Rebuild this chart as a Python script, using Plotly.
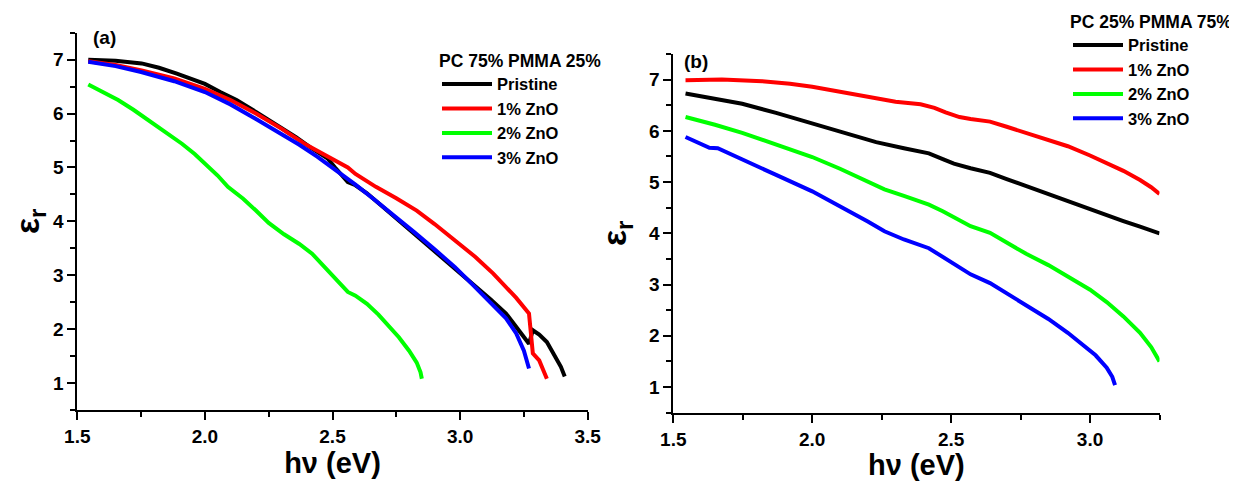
import plotly.graph_objects as go

# ---------------- data: panel (a) PC 75% PMMA 25% ----------------
a_pristine_x = [1.543, 1.65, 1.752, 1.82, 1.89, 2.0, 2.06, 2.124, 2.2, 2.28, 2.357, 2.42, 2.48, 2.51, 2.535,
                2.56, 2.59, 2.635, 2.69, 2.744, 2.82, 2.9, 2.98, 3.05, 3.12, 3.18, 3.22, 3.25, 3.27, 3.285,
                3.31, 3.34, 3.37, 3.395, 3.41]
a_pristine_y = [7.0, 6.98, 6.93, 6.85, 6.74, 6.55, 6.4, 6.25, 6.03, 5.8, 5.56, 5.35, 5.17, 5.0, 4.85,
                4.73, 4.67, 4.52, 4.3, 4.08, 3.78, 3.46, 3.14, 2.84, 2.55, 2.29, 2.05, 1.88, 1.73, 1.98,
                1.9, 1.76, 1.52, 1.3, 1.12]
a_zno1_x = [1.543, 1.65, 1.752, 1.88, 2.0, 2.1, 2.2, 2.3, 2.39, 2.48, 2.56, 2.59, 2.67, 2.75, 2.83, 2.9,
            2.98, 3.06, 3.13, 3.18, 3.22, 3.27, 3.285, 3.31, 3.34]
a_zno1_y = [6.97, 6.9, 6.8, 6.65, 6.46, 6.25, 6.0, 5.72, 5.44, 5.2, 5.0, 4.88, 4.64, 4.43, 4.2, 3.95,
            3.65, 3.34, 3.03, 2.78, 2.58, 2.29, 1.55, 1.42, 1.08]
a_zno2_x = [1.543, 1.6, 1.66, 1.72, 1.78, 1.85, 1.91, 1.96, 2.0, 2.05, 2.09, 2.15, 2.2, 2.25, 2.31, 2.37,
            2.42, 2.46, 2.5, 2.54, 2.56, 2.59, 2.635, 2.68, 2.72, 2.76, 2.8, 2.83, 2.845, 2.85]
a_zno2_y = [6.54, 6.4, 6.25, 6.07, 5.87, 5.65, 5.44, 5.25, 5.07, 4.85, 4.64, 4.42, 4.2, 3.97, 3.76, 3.58,
            3.4, 3.2, 3.0, 2.8, 2.69, 2.62, 2.47, 2.27, 2.05, 1.85, 1.6, 1.38, 1.2, 1.08]
a_zno3_x = [1.543, 1.65, 1.75, 1.88, 2.0, 2.1, 2.2, 2.29, 2.37, 2.44, 2.5, 2.55, 2.59, 2.66, 2.74, 2.82,
            2.9, 2.98, 3.05, 3.12, 3.18, 3.22, 3.25, 3.27]
a_zno3_y = [6.96, 6.88, 6.77, 6.6, 6.4, 6.17, 5.9, 5.65, 5.42, 5.2, 5.0, 4.82, 4.68, 4.42, 4.12, 3.8,
            3.48, 3.15, 2.82, 2.5, 2.2, 1.92, 1.6, 1.27]

# ---------------- data: panel (b) PC 25% PMMA 75% ----------------
b_pristine_x = [1.544, 1.65, 1.748, 1.87, 2.0, 2.1, 2.2, 2.23, 2.33, 2.42, 2.47, 2.51, 2.57, 2.64, 2.7,
                2.77, 2.85, 2.92, 3.0, 3.06, 3.12, 3.18, 3.22, 3.25]
b_pristine_y = [6.73, 6.63, 6.53, 6.35, 6.15, 5.99, 5.84, 5.78, 5.66, 5.56, 5.45, 5.36, 5.27, 5.18, 5.06,
                4.92, 4.77, 4.62, 4.46, 4.34, 4.24, 4.13, 4.06, 4.0]
b_zno1_x = [1.544, 1.675, 1.82, 1.92, 2.0, 2.11, 2.2, 2.3, 2.39, 2.44, 2.48, 2.53, 2.57, 2.64, 2.7, 2.77,
            2.85, 2.92, 3.0, 3.06, 3.12, 3.18, 3.22, 3.25]
b_zno1_y = [6.99, 7.0, 6.97, 6.92, 6.86, 6.75, 6.66, 6.57, 6.52, 6.45, 6.36, 6.27, 6.23, 6.18, 6.08, 5.96,
            5.83, 5.7, 5.52, 5.37, 5.22, 5.04, 4.9, 4.77]
b_zno2_x = [1.544, 1.65, 1.748, 1.87, 2.0, 2.1, 2.2, 2.26, 2.33, 2.42, 2.47, 2.51, 2.57, 2.64, 2.7, 2.77,
            2.85, 2.92, 3.0, 3.06, 3.12, 3.18, 3.22, 3.25]
b_zno2_y = [6.27, 6.12, 5.96, 5.73, 5.49, 5.26, 5.02, 4.86, 4.73, 4.56, 4.43, 4.32, 4.14, 4.01, 3.82, 3.6,
            3.38, 3.15, 2.9, 2.66, 2.38, 2.06, 1.78, 1.5]
b_zno3_x = [1.544, 1.59, 1.63, 1.66, 1.748, 1.87, 2.0, 2.1, 2.2, 2.26, 2.33, 2.42, 2.47, 2.51, 2.57, 2.64,
            2.7, 2.77, 2.85, 2.92, 2.98, 3.02, 3.06, 3.08, 3.09]
b_zno3_y = [5.88, 5.77, 5.67, 5.66, 5.45, 5.14, 4.82, 4.53, 4.23, 4.04, 3.88, 3.71, 3.54, 3.39, 3.2, 3.03,
            2.83, 2.58, 2.33, 2.06, 1.8, 1.62, 1.38, 1.2, 1.04]

series_names = ["Pristine", "1% ZnO", "2% ZnO", "3% ZnO"]
series_colors = ["#000000", "#ff0000", "#00ff00", "#0000ff"]
legend_titles = ["PC 75% PMMA 25%", "PC 25% PMMA 75%"]
panel_labels = ["(a)", "(b)"]

FONT = "Liberation Sans, Arial, sans-serif"
# the page body adds an 8 px margin, so the figure is drawn 8 px smaller and
# all layout positions below are given in window pixels and shifted by it
PAGE_OFF = 8
W, H = 1237 - PAGE_OFF, 484 - PAGE_OFF


def fx(px):
    return (px - PAGE_OFF) / W


def fy(py):
    return 1 - (py - PAGE_OFF) / H


fig = go.Figure()

panel_a = [(a_pristine_x, a_pristine_y), (a_zno1_x, a_zno1_y), (a_zno2_x, a_zno2_y), (a_zno3_x, a_zno3_y)]
panel_b = [(b_pristine_x, b_pristine_y), (b_zno1_x, b_zno1_y), (b_zno2_x, b_zno2_y), (b_zno3_x, b_zno3_y)]

for (xs, ys), name, col in zip(panel_a, series_names, series_colors):
    fig.add_trace(go.Scatter(x=xs, y=ys, mode="lines", name=name, line=dict(color=col, width=4),
                             xaxis="x", yaxis="y", legend="legend"))
for (xs, ys), name, col in zip(panel_b, series_names, series_colors):
    fig.add_trace(go.Scatter(x=xs, y=ys, mode="lines", name=name, line=dict(color=col, width=4),
                             xaxis="x2", yaxis="y2", legend="legend2"))

tickfont = dict(family=FONT, size=19, color="black", weight="bold")
titlefont_x = dict(family=FONT, size=29, color="black", weight="bold")
titlefont_y = dict(family=FONT, size=34, color="black", weight="bold")


def xaxis(domain, rng, anchor):
    return dict(domain=domain, range=rng, anchor=anchor, showline=True, linewidth=2, linecolor="black",
                ticks="outside", ticklen=8, tickwidth=2, tickcolor="black", dtick=0.5, tick0=1.5,
                tickformat=".1f", tickfont=tickfont, showgrid=False, zeroline=False,
                minor=dict(ticks="outside", ticklen=5, tickwidth=2, tickcolor="black", dtick=0.25, showgrid=False),
                title=dict(text="hν (eV)", font=titlefont_x, standoff=2))


def yaxis(domain, anchor):
    return dict(domain=domain, range=[0.5, 7.5], anchor=anchor, showline=True, linewidth=2, linecolor="black",
                ticks="outside", ticklen=8, tickwidth=2, tickcolor="black", dtick=1, tick0=1,
                tickfont=tickfont, showgrid=False, zeroline=False,
                minor=dict(ticks="outside", ticklen=5, tickwidth=2, tickcolor="black", dtick=0.5, showgrid=False),
                title=dict(text="ε<sub>r</sub>", font=titlefont_y, standoff=12))


legfont = dict(family=FONT, size=16.5, color="black", weight="bold")
legtitlefont = dict(family=FONT, size=17.5, color="black", weight="bold")
labelfont = dict(family=FONT, size=19, color="black", weight="bold")

fig.update_layout(
    width=W, height=H, autosize=False,
    margin=dict(l=0, r=0, t=0, b=0, autoexpand=False),
    paper_bgcolor="white", plot_bgcolor="white",
    xaxis=xaxis([fx(77.3), fx(587.7)], [1.5, 3.5], "y"),
    yaxis=yaxis([fy(410), fy(32.7)], "x"),
    xaxis2=xaxis([fx(673.3), fx(1159.5)], [1.5, 3.25], "y2"),
    yaxis2=yaxis([fy(412.7), fy(54)], "x2"),
    legend=dict(x=fx(437), y=fy(44), xanchor="left", yanchor="top", bgcolor="rgba(0,0,0,0)",
                font=legfont, itemwidth=50, tracegroupgap=0,
                title=dict(text=legend_titles[0], font=legtitlefont, side="top")),
    legend2=dict(x=fx(1068), y=fy(5), xanchor="left", yanchor="top", bgcolor="rgba(0,0,0,0)",
                 font=legfont, itemwidth=50, tracegroupgap=0,
                 title=dict(text=legend_titles[1], font=legtitlefont, side="top")),
    annotations=[
        dict(text=panel_labels[0], xref="paper", yref="paper", x=fx(91), y=fy(37),
             xanchor="left", yanchor="middle", showarrow=False, font=labelfont),
        dict(text=panel_labels[1], xref="paper", yref="paper", x=fx(682), y=fy(61),
             xanchor="left", yanchor="middle", showarrow=False, font=labelfont),
    ],
)

fig.write_html("out.html")
